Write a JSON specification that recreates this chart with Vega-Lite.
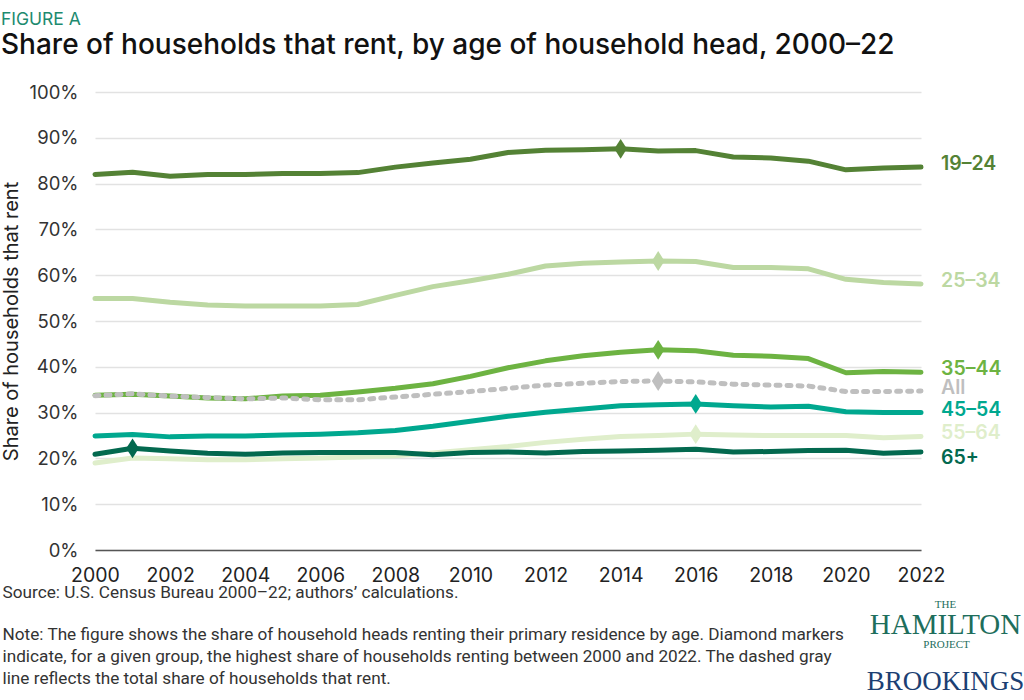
{
  "$schema": "https://vega.github.io/schema/vega-lite/v6.json",
  "width": 826,
  "height": 458,
  "autosize": "none",
  "padding": {"left": 95, "top": 92, "right": 103, "bottom": 150},
  "background": "white",
  "config": {"view": {"stroke": null}, "font": "Inter"},
  "title": {
    "text": "FIGURE A",
    "subtitle": "Share of households that rent, by age of household head, 2000–22",
    "anchor": "start",
    "frame": "group",
    "dx": -94,
    "offset": 23,
    "font": "Inter",
    "fontSize": 17.5,
    "fontWeight": "normal",
    "color": "#1d8a6f",
    "subtitleFont": "Inter",
    "subtitleFontSize": 28,
    "subtitleFontWeight": 500,
    "subtitleColor": "#111111",
    "subtitlePadding": 4
  },
  "datasets": {
    "rent": [
      {"group": "25–34", "year": 2000, "share": 54.9}, {"group": "25–34", "year": 2001, "share": 54.9}, {"group": "25–34", "year": 2002, "share": 54.1}, {"group": "25–34", "year": 2003, "share": 53.5}, {"group": "25–34", "year": 2004, "share": 53.3}, {"group": "25–34", "year": 2005, "share": 53.3}, {"group": "25–34", "year": 2006, "share": 53.3}, {"group": "25–34", "year": 2007, "share": 53.6}, {"group": "25–34", "year": 2008, "share": 55.6}, {"group": "25–34", "year": 2009, "share": 57.5}, {"group": "25–34", "year": 2010, "share": 58.8}, {"group": "25–34", "year": 2011, "share": 60.2}, {"group": "25–34", "year": 2012, "share": 62.0}, {"group": "25–34", "year": 2013, "share": 62.6}, {"group": "25–34", "year": 2014, "share": 62.9}, {"group": "25–34", "year": 2015, "share": 63.1}, {"group": "25–34", "year": 2016, "share": 63.0}, {"group": "25–34", "year": 2017, "share": 61.7}, {"group": "25–34", "year": 2018, "share": 61.7}, {"group": "25–34", "year": 2019, "share": 61.4}, {"group": "25–34", "year": 2020, "share": 59.1}, {"group": "25–34", "year": 2021, "share": 58.4}, {"group": "25–34", "year": 2022, "share": 58.1},
      {"group": "19–24", "year": 2000, "share": 82.0}, {"group": "19–24", "year": 2001, "share": 82.5}, {"group": "19–24", "year": 2002, "share": 81.6}, {"group": "19–24", "year": 2003, "share": 82.0}, {"group": "19–24", "year": 2004, "share": 82.0}, {"group": "19–24", "year": 2005, "share": 82.2}, {"group": "19–24", "year": 2006, "share": 82.2}, {"group": "19–24", "year": 2007, "share": 82.4}, {"group": "19–24", "year": 2008, "share": 83.6}, {"group": "19–24", "year": 2009, "share": 84.5}, {"group": "19–24", "year": 2010, "share": 85.3}, {"group": "19–24", "year": 2011, "share": 86.8}, {"group": "19–24", "year": 2012, "share": 87.3}, {"group": "19–24", "year": 2013, "share": 87.4}, {"group": "19–24", "year": 2014, "share": 87.6}, {"group": "19–24", "year": 2015, "share": 87.1}, {"group": "19–24", "year": 2016, "share": 87.2}, {"group": "19–24", "year": 2017, "share": 85.8}, {"group": "19–24", "year": 2018, "share": 85.6}, {"group": "19–24", "year": 2019, "share": 84.9}, {"group": "19–24", "year": 2020, "share": 83.0}, {"group": "19–24", "year": 2021, "share": 83.4}, {"group": "19–24", "year": 2022, "share": 83.6},
      {"group": "55–64", "year": 2000, "share": 19.0}, {"group": "55–64", "year": 2001, "share": 20.1}, {"group": "55–64", "year": 2002, "share": 19.9}, {"group": "55–64", "year": 2003, "share": 19.7}, {"group": "55–64", "year": 2004, "share": 19.7}, {"group": "55–64", "year": 2005, "share": 19.9}, {"group": "55–64", "year": 2006, "share": 20.1}, {"group": "55–64", "year": 2007, "share": 20.3}, {"group": "55–64", "year": 2008, "share": 20.6}, {"group": "55–64", "year": 2009, "share": 21.2}, {"group": "55–64", "year": 2010, "share": 21.9}, {"group": "55–64", "year": 2011, "share": 22.6}, {"group": "55–64", "year": 2012, "share": 23.5}, {"group": "55–64", "year": 2013, "share": 24.2}, {"group": "55–64", "year": 2014, "share": 24.8}, {"group": "55–64", "year": 2015, "share": 25.0}, {"group": "55–64", "year": 2016, "share": 25.3}, {"group": "55–64", "year": 2017, "share": 25.1}, {"group": "55–64", "year": 2018, "share": 25.0}, {"group": "55–64", "year": 2019, "share": 25.0}, {"group": "55–64", "year": 2020, "share": 25.0}, {"group": "55–64", "year": 2021, "share": 24.5}, {"group": "55–64", "year": 2022, "share": 24.8},
      {"group": "65+", "year": 2000, "share": 20.9}, {"group": "65+", "year": 2001, "share": 22.2}, {"group": "65+", "year": 2002, "share": 21.6}, {"group": "65+", "year": 2003, "share": 21.1}, {"group": "65+", "year": 2004, "share": 20.9}, {"group": "65+", "year": 2005, "share": 21.2}, {"group": "65+", "year": 2006, "share": 21.3}, {"group": "65+", "year": 2007, "share": 21.3}, {"group": "65+", "year": 2008, "share": 21.3}, {"group": "65+", "year": 2009, "share": 20.8}, {"group": "65+", "year": 2010, "share": 21.3}, {"group": "65+", "year": 2011, "share": 21.4}, {"group": "65+", "year": 2012, "share": 21.2}, {"group": "65+", "year": 2013, "share": 21.5}, {"group": "65+", "year": 2014, "share": 21.6}, {"group": "65+", "year": 2015, "share": 21.8}, {"group": "65+", "year": 2016, "share": 22.0}, {"group": "65+", "year": 2017, "share": 21.4}, {"group": "65+", "year": 2018, "share": 21.5}, {"group": "65+", "year": 2019, "share": 21.7}, {"group": "65+", "year": 2020, "share": 21.8}, {"group": "65+", "year": 2021, "share": 21.1}, {"group": "65+", "year": 2022, "share": 21.4},
      {"group": "45–54", "year": 2000, "share": 24.9}, {"group": "45–54", "year": 2001, "share": 25.2}, {"group": "45–54", "year": 2002, "share": 24.7}, {"group": "45–54", "year": 2003, "share": 24.9}, {"group": "45–54", "year": 2004, "share": 24.9}, {"group": "45–54", "year": 2005, "share": 25.1}, {"group": "45–54", "year": 2006, "share": 25.3}, {"group": "45–54", "year": 2007, "share": 25.6}, {"group": "45–54", "year": 2008, "share": 26.1}, {"group": "45–54", "year": 2009, "share": 27.0}, {"group": "45–54", "year": 2010, "share": 28.1}, {"group": "45–54", "year": 2011, "share": 29.2}, {"group": "45–54", "year": 2012, "share": 30.1}, {"group": "45–54", "year": 2013, "share": 30.8}, {"group": "45–54", "year": 2014, "share": 31.5}, {"group": "45–54", "year": 2015, "share": 31.7}, {"group": "45–54", "year": 2016, "share": 31.9}, {"group": "45–54", "year": 2017, "share": 31.5}, {"group": "45–54", "year": 2018, "share": 31.2}, {"group": "45–54", "year": 2019, "share": 31.4}, {"group": "45–54", "year": 2020, "share": 30.2}, {"group": "45–54", "year": 2021, "share": 30.0}, {"group": "45–54", "year": 2022, "share": 30.0},
      {"group": "35–44", "year": 2000, "share": 33.8}, {"group": "35–44", "year": 2001, "share": 34.0}, {"group": "35–44", "year": 2002, "share": 33.6}, {"group": "35–44", "year": 2003, "share": 33.2}, {"group": "35–44", "year": 2004, "share": 33.0}, {"group": "35–44", "year": 2005, "share": 33.6}, {"group": "35–44", "year": 2006, "share": 33.8}, {"group": "35–44", "year": 2007, "share": 34.5}, {"group": "35–44", "year": 2008, "share": 35.3}, {"group": "35–44", "year": 2009, "share": 36.3}, {"group": "35–44", "year": 2010, "share": 37.9}, {"group": "35–44", "year": 2011, "share": 39.8}, {"group": "35–44", "year": 2012, "share": 41.3}, {"group": "35–44", "year": 2013, "share": 42.4}, {"group": "35–44", "year": 2014, "share": 43.2}, {"group": "35–44", "year": 2015, "share": 43.7}, {"group": "35–44", "year": 2016, "share": 43.5}, {"group": "35–44", "year": 2017, "share": 42.5}, {"group": "35–44", "year": 2018, "share": 42.3}, {"group": "35–44", "year": 2019, "share": 41.8}, {"group": "35–44", "year": 2020, "share": 38.7}, {"group": "35–44", "year": 2021, "share": 39.0}, {"group": "35–44", "year": 2022, "share": 38.8},
      {"group": "All", "year": 2000, "share": 33.7}, {"group": "All", "year": 2001, "share": 34.1}, {"group": "All", "year": 2002, "share": 33.6}, {"group": "All", "year": 2003, "share": 33.3}, {"group": "All", "year": 2004, "share": 33.0}, {"group": "All", "year": 2005, "share": 33.2}, {"group": "All", "year": 2006, "share": 32.8}, {"group": "All", "year": 2007, "share": 32.8}, {"group": "All", "year": 2008, "share": 33.4}, {"group": "All", "year": 2009, "share": 34.0}, {"group": "All", "year": 2010, "share": 34.6}, {"group": "All", "year": 2011, "share": 35.3}, {"group": "All", "year": 2012, "share": 36.0}, {"group": "All", "year": 2013, "share": 36.4}, {"group": "All", "year": 2014, "share": 36.8}, {"group": "All", "year": 2015, "share": 36.9}, {"group": "All", "year": 2016, "share": 36.7}, {"group": "All", "year": 2017, "share": 36.2}, {"group": "All", "year": 2018, "share": 36.0}, {"group": "All", "year": 2019, "share": 35.8}, {"group": "All", "year": 2020, "share": 34.6}, {"group": "All", "year": 2021, "share": 34.6}, {"group": "All", "year": 2022, "share": 34.7}
    ]
  },
  "data": {"name": "rent"},
  "encoding": {
    "x": {"field": "year", "type": "quantitative", "scale": {"domain": [2000, 2022], "nice": false, "zero": false}},
    "y": {"field": "share", "type": "quantitative", "scale": {"domain": [0, 100], "nice": false}},
    "color": {
      "field": "group", "type": "nominal", "legend": null,
      "scale": {
        "domain": ["19–24", "25–34", "35–44", "All", "45–54", "55–64", "65+"],
        "range": ["#548235", "#bcd8a2", "#6db342", "#bfbfbf", "#00a88f", "#dfeecb", "#03694f"]
      }
    }
  },
  "resolve": {"axis": {"x": "independent", "y": "independent"}},
  "layer": [
    {
      "transform": [{"filter": "datum.group !== 'All'"}],
      "mark": {"type": "line", "strokeWidth": 5, "strokeCap": "round", "strokeJoin": "round"},
      "encoding": {
        "x": {"field": "year", "type": "quantitative", "axis": {
          "values": [2000, 2002, 2004, 2006, 2008, 2010, 2012, 2014, 2016, 2018, 2020, 2022],
          "format": "d", "grid": false, "ticks": false, "domain": true, "domainColor": "#555555", "domainWidth": 1.5,
          "labelFlush": false, "labelOverlap": false,
          "labelFont": "Inter", "labelFontSize": 19.5, "labelColor": "#222222", "labelPadding": 16,
          "title": "Source: U.S. Census Bureau 2000–22; authors’ calculations.",
          "titleFont": "Roboto", "titleFontSize": 17.2, "titleFontWeight": "normal", "titleColor": "#333333",
          "titleAnchor": "start", "titleAlign": "left", "titleBaseline": "alphabetic", "titleX": -93, "titleY": 47
        }},
        "y": {"field": "share", "type": "quantitative", "axis": {
          "values": [0, 10, 20, 30, 40, 50, 60, 70, 80, 90, 100],
          "labelExpr": "datum.value + '%'",
          "grid": true, "gridColor": "#e2e2e2", "gridWidth": 1.5, "ticks": false, "domain": false,
          "labelFont": "Inter", "labelFontSize": 18.5, "labelColor": "#333333", "labelPadding": 17,
          "title": "Share of households that rent", "titleFont": "Inter", "titleFontSize": 20, "titleFontWeight": "normal", "titleColor": "#222222", "titlePadding": 7
        }}
      }
    },
    {
      "transform": [{"filter": "datum.group === 'All'"}],
      "mark": {"type": "line", "strokeWidth": 5, "strokeCap": "round", "strokeDash": [4, 7]},
      "encoding": {
        "x": {"field": "year", "type": "quantitative", "axis": {
          "orient": "bottom", "labels": false, "ticks": false, "domain": false, "grid": false,
          "title": ["Note: The figure shows the share of household heads renting their primary residence by age. Diamond markers", "indicate, for a given group, the highest share of households renting between 2000 and 2022. The dashed gray", "line reflects the total share of households that rent."],
          "titleFont": "Roboto", "titleFontSize": 17.2, "titleFontWeight": "normal", "titleColor": "#333333",
          "titleAnchor": "start", "titleAlign": "left", "titleBaseline": "alphabetic", "titleX": -93, "titleY": 89, "titleLineHeight": 22
        }},
        "y": {"field": "share", "type": "quantitative", "axis": {
          "orient": "right", "labels": false, "ticks": false, "domain": false, "grid": false,
          "title": "PROJECT", "titleFont": "Liberation Serif", "titleFontSize": 11, "titleFontWeight": "normal", "titleColor": "#1e6e5c",
          "titleAngle": 0, "titleAlign": "center", "titleBaseline": "alphabetic", "titleX": 25, "titleY": 555
        }}
      }
    },
    {
      "transform": [
        {"joinaggregate": [{"op": "max", "field": "share", "as": "peak"}], "groupby": ["group"]},
        {"filter": "datum.share === datum.peak"}
      ],
      "mark": {"type": "point", "filled": true, "opacity": 1, "size": 250, "shape": "M0,-1.25L0.8,0L0,1.25L-0.8,0Z"},
      "encoding": {
        "x": {"field": "year", "type": "quantitative", "axis": null},
        "y": {"field": "share", "type": "quantitative", "axis": {
          "orient": "right", "labels": false, "ticks": false, "domain": false, "grid": false,
          "title": "HAMILTON", "titleFont": "Liberation Serif", "titleFontSize": 29, "titleFontWeight": "normal", "titleColor": "#1e6e5c",
          "titleAngle": 0, "titleAlign": "center", "titleBaseline": "alphabetic", "titleX": 24, "titleY": 541
        }}
      }
    },
    {
      "transform": [{"filter": "datum.year === 2022 && datum.group !== '65+'"}],
      "mark": {"type": "text", "align": "left", "dx": 20, "dy": -3, "fontSize": 19.5, "fontWeight": 600, "font": "Inter"},
      "encoding": {
        "x": {"field": "year", "type": "quantitative", "axis": null},
        "y": {"field": "share", "type": "quantitative", "axis": {
          "orient": "right", "labels": false, "ticks": false, "domain": false, "grid": false,
          "title": "BROOKINGS", "titleFont": "Liberation Serif", "titleFontSize": 27, "titleFontWeight": "normal", "titleColor": "#1c3f73",
          "titleAngle": 0, "titleAlign": "center", "titleBaseline": "alphabetic", "titleX": 24, "titleY": 597
        }},
        "text": {"field": "group"}
      }
    },
    {
      "transform": [{"filter": "datum.year === 2022 && datum.group === '65+'"}],
      "mark": {"type": "text", "align": "left", "dx": 20, "dy": 6, "fontSize": 19.5, "fontWeight": 600, "font": "Inter"},
      "encoding": {
        "x": {"field": "year", "type": "quantitative", "axis": null},
        "y": {"field": "share", "type": "quantitative", "axis": {
          "orient": "right", "labels": false, "ticks": false, "domain": false, "grid": false,
          "title": "THE", "titleFont": "Liberation Serif", "titleFontSize": 11, "titleFontWeight": "normal", "titleColor": "#1e6e5c",
          "titleAngle": 0, "titleAlign": "center", "titleBaseline": "alphabetic", "titleX": 24, "titleY": 515
        }},
        "text": {"field": "group"}
      }
    }
  ]
}
